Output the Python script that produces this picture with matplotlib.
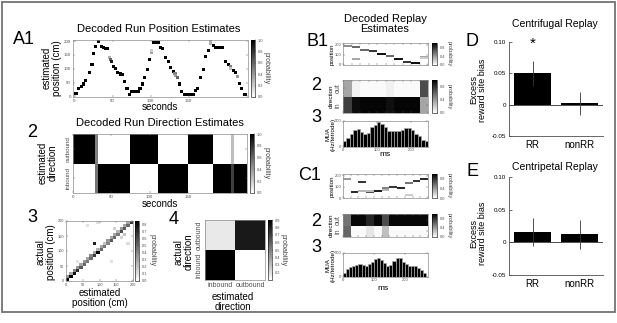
import numpy as np
import matplotlib.pyplot as plt
from matplotlib.patches import Rectangle

plt.rcParams['font.family'] = ['Liberation Sans', 'DejaVu Sans']

# --- A1: decoded run position (time s, position cm, probability) ---
a1_t = [2, 5, 9, 12, 15, 20, 23, 25, 28, 31, 35, 38, 41, 43, 46, 47, 49, 51, 54, 57,
        60, 63, 66, 69, 72, 75, 78, 81, 84, 86, 89, 92, 96, 99, 101, 101, 104, 107, 110, 113,
        116, 120, 123, 126, 130, 132, 133, 135, 138, 141, 144, 147, 150, 153, 156, 159, 162, 165, 169, 172,
        176, 179, 179, 183, 186, 189, 192, 195, 199, 202, 205, 205, 209, 212, 214, 217, 220, 224]
a1_pos = [10, 30, 36, 45, 57, 87, 115, 154, 182, 200, 182, 176, 172, 172, 140, 133, 127, 107, 100, 87,
          81, 79, 55, 30, 8, 18, 18, 18, 18, 30, 45, 67, 97, 133, 158, 165, 194, 194, 194, 176,
          172, 142, 127, 105, 91, 82, 75, 70, 45, 18, 8, 8, 8, 8, 8, 20, 30, 67, 97, 145,
          166, 200, 193, 184, 176, 176, 176, 176, 127, 117, 109, 100, 93, 85, 73, 48, 30, 8]
a1_p = [1, 1, 1, 1, 1, 1, 1, 1, 1, 1, 1, 1, 1, 1, 0.3, 0.6, 0.9, 1, 1, 1,
        1, 1, 1, 1, 1, 1, 1, 1, 1, 1, 1, 1, 1, 1, 0.35, 0.2, 1, 1, 1, 1,
        1, 1, 1, 1, 1, 0.5, 0.4, 0.6, 1, 1, 1, 1, 1, 1, 1, 1, 1, 1, 1, 1,
        1, 0.45, 0.3, 1, 1, 1, 1, 1, 1, 1, 0.5, 0.25, 1, 1, 0.4, 1, 1, 1]

# --- A2: decoded run direction, segments in seconds ---
a2_edges = [0, 29, 32.5, 74.8, 111, 150, 182, 206.5, 209.5, 227]
a2_out = [1.0, 0.5, 0.0, 1.0, 0.0, 1.0, 0.0, 0.25, 0.0]
a2_in = [0.0, 0.55, 1.0, 0.0, 1.0, 0.0, 1.0, 0.75, 1.0]

# --- A3: position confusion matrix (10 cm bins) ---
a3_diag = [0.85, 0.9, 0.8, 0.7, 0.55, 0.5, 0.45, 0.5, 0.65, 0.85,
           0.5, 0.45, 0.4, 0.55, 0.5, 0.45, 0.6, 0.55, 0.5, 0.65]
a3_below = [0.35, 0.3, 0.4, 0.35, 0.3, 0.35, 0.3, 0.4, 0.3, 0.25,
            0.3, 0.2, 0.35, 0.3, 0.3, 0.25, 0.35, 0.3, 0.3]
a3_extra_est = [30, 130, 160, 175, 95, 60, 85, 145, 185]
a3_extra_act = [60, 60, 140, 150, 195, 185, 125, 175, 120]
a3_extra_p = [0.1, 0.1, 0.15, 0.2, 0.1, 0.1, 0.75, 0.15, 0.12]

# --- A4: direction confusion (rows: inbound, outbound actual) ---
a4_in = [0.9, 0.1]
a4_out = [0.17, 0.82]
dir_labels = ['inbound', 'outbound']

# --- B: replay (25 ms bins) ---
b1_bin = [0, 1, 1, 2, 3, 4, 5, 6, 7, 8, 9, 9]
b1_pos = [185, 180, 55, 150, 140, 110, 85, 55, 30, 15, 80, 70]
b1_p = [0.45, 0.6, 0.35, 0.6, 0.8, 0.95, 0.6, 0.95, 0.8, 0.95, 0.35, 0.2]
b2_out = [0.35, 0.05, 0.02, 0.02, 0.02, 0.06, 0.02, 0.02, 0.02, 0.7]
b2_in = [0.75, 0.95, 0.98, 0.98, 0.98, 0.94, 0.98, 0.98, 0.98, 0.35]
b3_mua = [108, 171, 247, 329, 342, 291, 247, 278, 380, 424, 487, 443, 380,
          316, 310, 310, 310, 329, 361, 361, 329, 253, 202, 139, 120]

# --- C: replay ---
c1_bin = [0, 1, 2, 2, 3, 3, 4, 5, 5, 6, 7, 8, 8, 9, 10]
c1_pos = [171, 57, 143, 60, 51, 65, 63, 86, 70, 100, 86, 134, 23, 150, 166]
c1_p = [0.4, 0.85, 0.8, 0.3, 0.7, 0.25, 0.9, 0.5, 0.3, 0.8, 0.85, 0.55, 0.2, 0.8, 0.85]
c2_out = [0.55, 0.97, 0.97, 0.85, 0.97, 0.7, 0.97, 0.97, 0.97, 0.97, 0.97]
c2_in = [0.6, 0.02, 0.02, 0.1, 0.02, 0.25, 0.02, 0.02, 0.02, 0.02, 0.02]
c3_mua = [87, 174, 217, 232, 246, 261, 246, 232, 261, 304, 377, 406, 362, 290,
          232, 246, 340, 406, 391, 319, 275, 232, 232, 232, 188, 145, 87]

# --- D / E: excess reward site bias ---
groups = ['RR', 'nonRR']
d_vals = [0.05, 0.002]
d_err = [0.02, 0.019]
e_vals = [0.016, 0.012]
e_err = [0.021, 0.022]

W, H = 617, 323
fig = plt.figure(figsize=(W / 100, H / 100), dpi=100)
cmap = plt.get_cmap('gray_r')


def box(l, t, r, b):
    return fig.add_axes([l / W, 1 - b / H, (r - l) / W, (b - t) / H])


def ft(x, y, s, size=7, **kw):
    kw.setdefault('ha', 'center')
    kw.setdefault('va', 'center')
    fig.text(x / W, 1 - y / H, s, fontsize=size, **kw)


def style_img(ax, tsize=3.2, pad=1.5):
    ax.tick_params(direction='in', length=1.5, width=0.3, labelsize=tsize, pad=pad,
                   top=True, right=True, colors='0.3')
    for s in ax.spines.values():
        s.set_linewidth(0.5)
        s.set_color('0.55')


def cbar(m, l, t, r, b, ticks, lab_x, lab_y, lab_size=5):
    cax = box(l, t, r, b)
    cb = fig.colorbar(m, cax=cax, ticks=ticks)
    cb.ax.tick_params(labelsize=2.8, length=1, width=0.3, pad=1, colors='0.3')
    cb.outline.set_linewidth(0.4)
    ft(lab_x, lab_y, 'probability', size=lab_size, rotation=270, color='0.25')
    return cb


# ---------------- A1 ----------------
ax = box(73, 40, 248, 97)
sc = ax.scatter(a1_t, a1_pos, c=a1_p, cmap=cmap, vmin=0, vmax=1, marker='s', s=5, linewidths=0)
ax.set_xlim(-2, 228)
ax.set_ylim(-2, 204)
ax.set_xticks([0, 50, 100, 150])
ax.set_yticks([0, 50, 100, 150, 200])
style_img(ax)
cbar(sc, 251, 40, 255, 97, [0, 0.2, 0.4, 0.6, 0.8, 1], 266, 68)
ft(159, 29, 'Decoded Run Position Estimates', size=8)
ft(24, 40, 'A1', size=13)
ft(52, 68, 'estimated\nposition (cm)', size=7, rotation=90, linespacing=1.0)
ft(160, 107, 'seconds', size=7)

# ---------------- A2 ----------------
ax = box(73, 134, 247, 193)
a2 = np.array([a2_in, a2_out])
m = ax.pcolormesh(a2_edges, [0, 1, 2], a2, cmap=cmap, vmin=0, vmax=1)
ax.set_xlim(0, 227)
ax.set_ylim(0, 2)
ax.set_xticks([0, 50, 100, 150])
ax.set_yticks([0.5, 1.5])
ax.set_yticklabels(dir_labels, rotation=90, va='center')
style_img(ax)
ax.tick_params(axis='y', labelsize=4.5)
cbar(m, 250, 134, 254, 193, [0, 0.2, 0.4, 0.6, 0.8, 1], 266, 163)
ft(160, 123, 'Decoded Run Direction Estimates', size=8)
ft(32, 132, '2', size=13)
ft(48, 163, 'estimated\ndirection', size=7, rotation=90, linespacing=1.0)
ft(160, 204, 'seconds', size=7)

# ---------------- A3 ----------------
ax = box(66, 221, 133, 281)
a3 = np.zeros((20, 20))
for i, v in enumerate(a3_diag):
    a3[i, i] = v
for i, v in enumerate(a3_below):
    a3[i + 1, i] = v
for e, a, v in zip(a3_extra_est, a3_extra_act, a3_extra_p):
    a3[int(a // 10), int(e // 10)] = v
edges = np.arange(0, 201, 10)
m = ax.pcolormesh(edges, edges, a3, cmap=cmap, vmin=0, vmax=0.85)
ax.set_xticks([0, 50, 100, 150, 200])
ax.set_yticks([0, 50, 100, 150, 200])
style_img(ax, 2.8)
cbar(m, 135, 221, 139, 281, [0, 0.1, 0.2, 0.3, 0.4, 0.5, 0.6, 0.7, 0.8], 152, 250)
ft(32, 218, '3', size=13)
ft(46, 252, 'actual\nposition (cm)', size=7, rotation=90, linespacing=1.0)
ft(100, 298, 'estimated\nposition (cm)', size=7, linespacing=1.0)

# ---------------- A4 ----------------
ax = box(205, 220, 265, 280)
m = ax.pcolormesh([0, 1, 2], [0, 1, 2], np.array([a4_in, a4_out]), cmap=cmap, vmin=0.1, vmax=0.9)
ax.set_xticks([0.5, 1.5])
ax.set_xticklabels(dir_labels)
ax.set_yticks([0.5, 1.5])
ax.set_yticklabels(dir_labels, rotation=90, va='center')
style_img(ax, 5)
ax.tick_params(length=0)
cbar(m, 268, 220, 272, 280, [0.2, 0.3, 0.4, 0.5, 0.6, 0.7, 0.8, 0.9], 283, 250)
ft(174, 219, '4', size=13)
ft(184, 252, 'actual\ndirection', size=7, rotation=90, linespacing=1.0)
ft(233, 302, 'estimated\ndirection', size=7, linespacing=1.0)


# ---------------- B / C replay ----------------
def replay(t1, h1, t2, h2, t3, h3, pbin, ppos, pp, pout, pin, mua, nbins):
    tmax = nbins * 25
    ax1 = box(343, t1, 428, t1 + h1)
    ax1.hlines(ppos, [25 * b for b in pbin], [25 * b + 25 for b in pbin],
               colors=cmap(np.array(pp)), linewidth=1.4)
    ax1.set_xlim(0, tmax)
    ax1.set_ylim(0, 215)
    ax1.set_xticks(np.arange(0, tmax + 1, 25))
    ax1.set_xticklabels([])
    ax1.set_yticks([0, 100, 200])
    style_img(ax1, 3, 1)
    sm = plt.cm.ScalarMappable(cmap=cmap, norm=plt.Normalize(0, 1))
    cbar(sm, 432, t1, 437, t1 + h1, [0, 0.4, 0.8], 449, t1 + h1 / 2, 4)

    ax2 = box(343, t2, 428, t2 + h2)
    m2 = ax2.pcolormesh(np.arange(0, tmax + 1, 25), [0, 1, 2], np.array([pin, pout]),
                        cmap=cmap, vmin=0, vmax=1)
    ax2.set_xticks(np.arange(0, tmax + 1, 25))
    ax2.set_xticklabels([])
    ax2.set_yticks([0.5, 1.5])
    ax2.set_yticklabels(['in', 'out'], rotation=90, va='center')
    style_img(ax2, 5, 1)
    cbar(m2, 432, t2, 437, t2 + h2, [0, 0.4, 0.8], 449, t2 + h2 / 2, 4)

    ax3 = box(343, t3, 428, t3 + h3)
    ax3.bar(np.arange(len(mua)) * 10 + 5, mua, width=10, color='black',
            edgecolor='0.65', linewidth=0.5)
    ax3.set_xlim(0, tmax)
    ax3.set_ylim(0, 500)
    ax3.set_yticks([0, 500])
    ax3.set_xticks([0, 100, 200])
    style_img(ax3, 3, 1)


replay(43, 22, 80, 33, 121, 26, b1_bin, b1_pos, b1_p, b2_out, b2_in, b3_mua, 10)
ft(385, 24, 'Decoded Replay\nEstimates', size=8, linespacing=1.1)
ft(318, 42, 'B1', size=13)
ft(316, 86, '2', size=13)
ft(316, 118, '3', size=13)
ft(332, 54, 'position', size=4.5, rotation=90)
ft(331, 96, 'direction', size=4.5, rotation=90)
ft(331, 134, 'MUA\n(Hz/tetrode)', size=4.5, rotation=90, linespacing=1.0)
ft(385, 155, 'ms', size=6)

replay(174, 24, 214, 23, 253, 24, c1_bin, c1_pos, c1_p, c2_out, c2_in, c3_mua, 11)
ft(310, 175, 'C1', size=13)
ft(316, 222, '2', size=13)
ft(316, 248, '3', size=13)
ft(332, 186, 'position', size=4.5, rotation=90)
ft(331, 225, 'direction', size=4.5, rotation=90)
ft(331, 265, 'MUA\n(Hz/tetrode)', size=4.5, rotation=90, linespacing=1.0)
ft(383, 289, 'ms', size=6)


# ---------------- D / E ----------------
def bias(l, t, r, b, vals, errs):
    ax = box(l, t, r, b)
    ax.bar([1, 2], vals, width=0.8, color='black',
           yerr=errs, error_kw=dict(elinewidth=0.6, ecolor='0.2', capsize=0))
    ax.axhline(0, color='0.3', linewidth=0.7)
    ax.set_xlim(0.5, 2.5)
    ax.set_ylim(-0.05, 0.10)
    ax.set_yticks([-0.05, 0, 0.05, 0.10])
    ax.set_yticklabels(['-0.05', '0', '0.05', '0.10'])
    ax.set_xticks([1, 2])
    ax.set_xticklabels(groups, fontsize=7)
    ax.tick_params(axis='y', direction='in', length=2, width=0.4, labelsize=4.5, pad=2)
    ax.tick_params(axis='x', length=0, pad=3)
    for s in ['top', 'right']:
        ax.spines[s].set_visible(False)
    for s in ['left', 'bottom']:
        ax.spines[s].set_linewidth(0.6)
        ax.spines[s].set_color('0.3')
    return ax


ax = bias(509, 42, 603, 136, d_vals, d_err)
ax.text(1, 0.097, '*', ha='center', va='center', fontsize=11)
ft(555, 24, 'Centrifugal Replay', size=7.5)
ft(472, 41, 'D', size=13)
ft(478, 90, 'Excess\nreward site bias', size=6.5, rotation=90, linespacing=1.0)

ax = bias(509, 177, 603, 275, e_vals, e_err)
ft(555, 167, 'Centripetal Replay', size=7.5)
ft(472, 172, 'E', size=13)
ft(478, 233, 'Excess\nreward site bias', size=6.5, rotation=90, linespacing=1.0)

# outer frame
fig.patches.append(Rectangle((1.5 / W, 1 - 312 / H), 613.5 / W, 310.5 / H,
                             transform=fig.transFigure, fill=False,
                             edgecolor='0.45', linewidth=1.3))

fig.savefig('out.png', dpi=100)
